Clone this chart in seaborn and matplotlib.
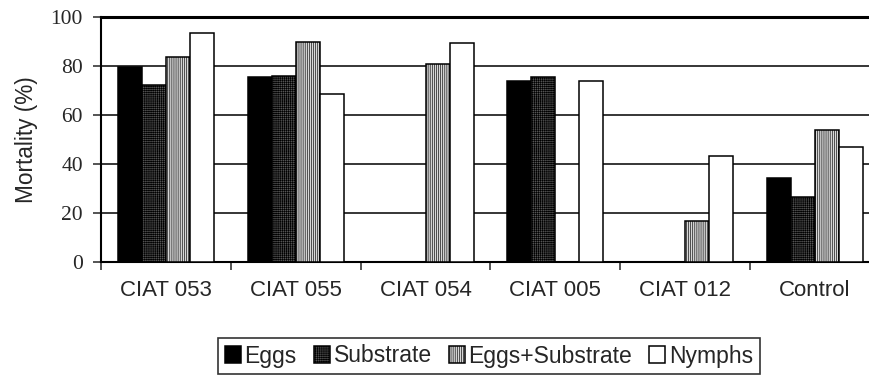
import numpy as np
import pandas as pd
import matplotlib
matplotlib.use("Agg")
import matplotlib.pyplot as plt
import seaborn as sns
from matplotlib.patches import Patch

# Mortality (%) per line and infestation stage
lines = ["CIAT 053", "CIAT 055", "CIAT 054", "CIAT 005", "CIAT 012", "Control"]
treatments = ["Eggs", "Substrate", "Eggs+Substrate", "Nymphs"]
eggs = [79.7, 75.4, np.nan, 73.9, np.nan, 34.2]
substrate = [72.2, 75.9, np.nan, 75.4, np.nan, 26.7]
eggs_substrate = [83.8, 89.9, 80.7, np.nan, 16.9, 53.9]
nymphs = [93.3, 68.6, 89.3, 74.0, 43.4, 46.8]
y_ticks = [0, 20, 40, 60, 80, 100]

series = {"Eggs": eggs, "Substrate": substrate,
          "Eggs+Substrate": eggs_substrate, "Nymphs": nymphs}
df = pd.DataFrame([
    {"Line": ln, "Treatment": t, "Mortality": series[t][i]}
    for t in treatments for i, ln in enumerate(lines)
])

sns.set_style("white")
plt.rcParams["font.family"] = ["Liberation Sans", "DejaVu Sans"]
plt.rcParams["hatch.linewidth"] = 0.45

face = {"Eggs": "#000000", "Substrate": "#555555",
        "Eggs+Substrate": "#d8d8d8", "Nymphs": "#ffffff"}
hatch = {"Eggs": None, "Substrate": "++++++++", "Eggs+Substrate": "||||||||", "Nymphs": None}
hcolor = {"Eggs": "black", "Substrate": "#111111",
          "Eggs+Substrate": "#b0b0b0", "Nymphs": "black"}

fig = plt.figure(figsize=(8.7, 3.78), dpi=100)
ax = fig.add_axes([101 / 870, 116 / 378, 779 / 870, 245 / 378])

sns.barplot(data=df, x="Line", y="Mortality", hue="Treatment",
            order=lines, hue_order=treatments, palette=face,
            width=0.74, gap=0, edgecolor="black", linewidth=1.1,
            saturation=1, legend=False, ax=ax)


def apply_fill(patch, t):
    if hatch[t]:
        patch.set_hatch(hatch[t])
        try:
            patch.set_hatchcolor(hcolor[t])
        except AttributeError:
            pass


for cont, t in zip(ax.containers, treatments):
    for bar in cont:
        apply_fill(bar, t)
        bar.set_zorder(3)

ax.set_xlim(-0.5, len(lines) - 0.5)
ax.set_ylim(0, 100)
ax.set_yticks(y_ticks)
ax.set_yticklabels([str(v) for v in y_ticks], family="Liberation Serif", fontsize=15.5)
ax.yaxis.grid(True, color="black", linewidth=1.1)
ax.set_axisbelow(True)

ax.set_xticks(range(len(lines)))
ax.set_xticklabels(lines, fontsize=16)
ax.set_xticks(np.arange(-0.5, len(lines) + 0.5, 1), minor=True)
ax.tick_params(axis="x", which="major", length=0, pad=13)
ax.tick_params(axis="x", which="minor", direction="out", length=6, width=1.1, bottom=True)
ax.tick_params(axis="y", direction="out", length=6, width=1.1, left=True, pad=7)

ax.set_xlabel("")
ax.set_ylabel("Mortality (%)", fontsize=16.3, labelpad=9)

for side in ["left", "bottom"]:
    ax.spines[side].set_color("black")
    ax.spines[side].set_linewidth(1.5)
ax.spines["top"].set_color("black")
ax.spines["top"].set_linewidth(2.2)
ax.spines["right"].set_visible(False)

handles = []
for t in treatments:
    p = Patch(facecolor=face[t], edgecolor="black", linewidth=1.1)
    apply_fill(p, t)
    handles.append(p)
leg = fig.legend(handles, treatments, loc="center", ncol=4,
                 bbox_to_anchor=(489 / 870, 1 - 356 / 378),
                 bbox_transform=fig.transFigure,
                 fontsize=16.5, frameon=True, fancybox=False,
                 handlelength=0.7, handleheight=0.7, handletextpad=0.15,
                 columnspacing=0.75, borderpad=0.3, borderaxespad=0)
leg.get_frame().set_edgecolor("black")
leg.get_frame().set_linewidth(1.2)

fig.savefig("out.png", dpi=100)
